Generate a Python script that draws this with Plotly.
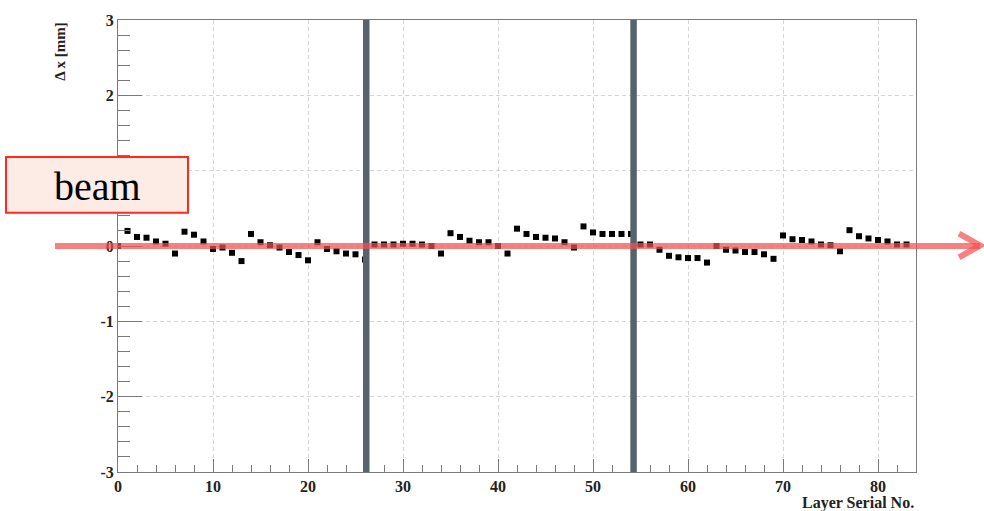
import plotly.graph_objects as go

layers = list(range(0, 84))
dx = [0.00, 0.20, 0.12, 0.11, 0.06, 0.03, -0.10, 0.19, 0.15, 0.06,
      -0.04, -0.02, -0.09, -0.20, 0.16, 0.05, 0.01, -0.02, -0.08, -0.12,
      -0.19, 0.05, -0.04, -0.07, -0.10, -0.11, -0.18, 0.02, 0.02, 0.02,
      0.03, 0.03, 0.02, 0.00, -0.10, 0.17, 0.12, 0.07, 0.05, 0.05,
      0.00, -0.10, 0.23, 0.16, 0.12, 0.11, 0.10, 0.05, -0.02, 0.26,
      0.18, 0.16, 0.16, 0.16, 0.16, 0.02, 0.02, -0.05, -0.13, -0.15,
      -0.16, -0.16, -0.22, 0.00, -0.05, -0.06, -0.08, -0.08, -0.11, -0.17,
      0.14, 0.09, 0.08, 0.06, 0.02, 0.01, -0.07, 0.21, 0.13, 0.10,
      0.08, 0.06, 0.02, 0.02]
separators = [26.13, 54.27]
x_ticks = [0, 10, 20, 30, 40, 50, 60, 70, 80]
y_ticks = [-3, -2, -1, 0, 1, 2, 3]
y_ticktext = ["-3", "-2", "-1", "0", "1", "2", "3"]

W, H = 984, 511
L, R, T, B = 118, 68, 17, 39
pw, ph = W - L - R, H - T - B

def px(x):
    return (x - L) / pw

def py(y):
    return (H - B - y) / ph

serif = "Liberation Serif, Times New Roman, serif"
tickfont = dict(family=serif, size=16, color="#222", weight="bold")
axcol = "#7a7a7a"
gridcol = "rgba(195,195,195,0.7)"

fig = go.Figure()
fig.add_trace(go.Scatter(
    x=layers, y=dx, mode="markers",
    marker=dict(symbol="square", size=6, color="black"),
    showlegend=False, hoverinfo="skip"))

fig.update_layout(
    width=W, height=H,
    margin=dict(l=L, r=R, t=T, b=B),
    paper_bgcolor="white", plot_bgcolor="white",
    xaxis=dict(range=[0, 84], tickvals=x_ticks, ticks="inside", ticklen=13,
               tickcolor=axcol, showline=True, linecolor=axcol, mirror=True,
               showgrid=True, gridcolor=gridcol, griddash="4px,3px", zeroline=False,
               tickfont=tickfont,
               minor=dict(dtick=2, ticks="inside", ticklen=7, tickcolor=axcol, showgrid=False)),
    yaxis=dict(range=[-3, 3], tickvals=y_ticks, ticktext=y_ticktext,
               ticks="inside", ticklen=24, tickcolor=axcol,
               showline=True, linecolor=axcol, mirror=True,
               showgrid=True, gridcolor=gridcol, griddash="4px,3px", zeroline=False,
               tickfont=tickfont,
               minor=dict(dtick=0.2, ticks="inside", ticklen=12, tickcolor=axcol, showgrid=False)),
)

shapes = []
for s in separators:
    shapes.append(dict(type="line", xref="x", yref="paper", x0=s, x1=s, y0=0, y1=1,
                       line=dict(color="#56636a", width=6.5)))
arrow_col = "rgba(242,80,80,0.72)"
shapes.append(dict(type="line", xref="paper", yref="y", x0=px(55), x1=px(980), y0=0, y1=0,
                   line=dict(color=arrow_col, width=6)))
shapes.append(dict(type="path", xref="paper", yref="paper",
                   path=f"M {px(959)} {py(232)} L {px(980)} {py(244)} L {px(959)} {py(256)}",
                   line=dict(color=arrow_col, width=6)))
shapes.append(dict(type="rect", xref="paper", yref="paper",
                   x0=px(6), x1=px(188), y0=py(211), y1=py(155),
                   fillcolor="#fdebe6", line=dict(color="#ff2a1a", width=2)))
fig.update_layout(shapes=shapes)

fig.add_annotation(x=px(97), y=py(185), xref="paper", yref="paper", text="beam",
                   showarrow=False, xanchor="center", yanchor="middle",
                   font=dict(family=serif, size=40, color="black"))
fig.add_annotation(x=px(916), y=py(503), xref="paper", yref="paper", text="Layer Serial No.",
                   showarrow=False, xanchor="right", yanchor="middle",
                   font=dict(family=serif, size=16, color="#222", weight="bold"))
fig.add_annotation(x=px(60), y=py(49), xref="paper", yref="paper", text="Δ x [mm]",
                   showarrow=False, textangle=-90, xanchor="center", yanchor="middle",
                   font=dict(family=serif, size=15, color="#222", weight="bold"))

fig.write_html("out.html")
